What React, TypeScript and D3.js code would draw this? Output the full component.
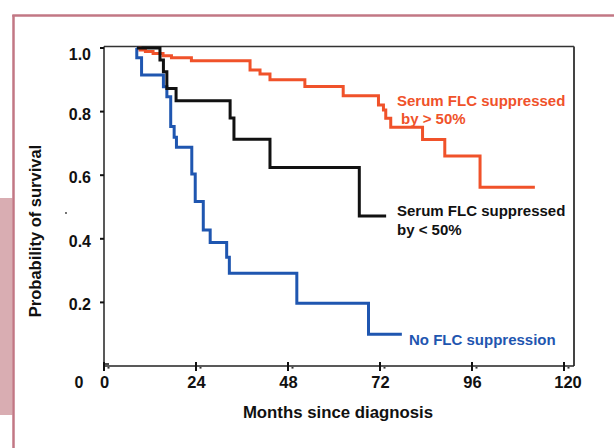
import React from "react";
import * as d3 from "d3";

// ---- Data (Kaplan–Meier step points: [month, survival after event]) ----
const orangeStart = 8.9;
const orangeTimes = [9.4, 10.8, 12.8, 15.4, 17.6, 22.8, 38.1, 40.7, 43.3, 52.4, 62.4, 71.6, 72.9, 73.5, 74.8, 83.1, 88.9, 98.1];
const orangeSurv = [0.994, 0.989, 0.983, 0.976, 0.969, 0.96, 0.931, 0.918, 0.9, 0.879, 0.85, 0.821, 0.805, 0.779, 0.751, 0.712, 0.66, 0.562];
const orangeEnd = 112.4;

const blackStart = 8.6;
const blackTimes = [14.6, 15.5, 16.4, 18.8, 32.9, 33.9, 43.3, 66.6];
const blackSurv = [0.962, 0.925, 0.873, 0.834, 0.78, 0.713, 0.624, 0.472];
const blackEnd = 73.6;

const blueStart = 8.5;
const blueTimes = [8.55, 9.8, 15.5, 16.4, 17.4, 18.3, 18.9, 22.9, 23.8, 25.9, 27.7, 32.0, 32.7, 50.3, 69.0];
const blueSurv = [0.969, 0.915, 0.878, 0.847, 0.753, 0.719, 0.688, 0.604, 0.517, 0.428, 0.388, 0.342, 0.292, 0.197, 0.1];
const blueEnd = 77.7;

const xTicks = [0, 24, 48, 72, 96, 120];
const yTicks = [0.2, 0.4, 0.6, 0.8, 1.0];
const yTickLabels = ["0.2", "0.4", "0.6", "0.8", "1.0"];

const ORANGE = "#f0522a";
const BLUE = "#1f56b0";
const BLACK = "#111111";
const FONT = "'Liberation Sans', Arial, Helvetica, sans-serif";

function buildSeries(start: number, times: number[], surv: number[], end: number): [number, number][] {
  const pts: [number, number][] = [[start, 1]];
  times.forEach((t, i) => pts.push([t, surv[i]]));
  pts.push([end, surv[surv.length - 1]]);
  return pts;
}

export default function App() {
  const W = 614;
  const H = 448;
  const x = d3.scaleLinear().domain([0, 120]).range([104, 564]);
  const y = d3.scaleLinear().domain([0, 1]).range([366, 48]);
  const line = d3
    .line<[number, number]>()
    .x((d) => x(d[0]))
    .y((d) => y(d[1]))
    .curve(d3.curveStepAfter);

  const orange = buildSeries(orangeStart, orangeTimes, orangeSurv, orangeEnd);
  const black = buildSeries(blackStart, blackTimes, blackSurv, blackEnd);
  const blue = buildSeries(blueStart, blueTimes, blueSurv, blueEnd);

  const x0 = x(0);
  const y0 = y(0);
  const top = y(1) - 1.5;
  const right = 574;

  return (
    <svg
      width={W}
      height={H}
      viewBox={`0 0 ${W} ${H}`}
      style={{ position: "absolute", left: 0, top: 0, background: "#fff" }}
      fontFamily={FONT}
    >
      {/* page frame */}
      <rect x={0} y={198} width={12.5} height={217} fill="#d9adb2" />
      <line x1={13.5} y1={15} x2={13.5} y2={448} stroke="#c27784" strokeWidth={2.5} />
      <line x1={12.3} y1={15.5} x2={614} y2={15.5} stroke="#c27784" strokeWidth={2.5} />

      {/* plot box */}
      <line x1={x0} y1={top} x2={right} y2={top} stroke="#333" strokeWidth={1.3} />
      <line x1={right} y1={top} x2={right} y2={y0} stroke="#444" strokeWidth={2} />
      <line x1={x0} y1={y0} x2={right} y2={y0} stroke="#222" strokeWidth={1.5} />
      <line x1={x0} y1={top} x2={x0} y2={y0} stroke="#222" strokeWidth={1.5} />

      {/* y ticks */}
      {yTicks.map((t) => (
        <line key={"yt" + t} x1={x0 - 4} y1={y(t)} x2={x0} y2={y(t)} stroke="#111" strokeWidth={2} />
      ))}
      <line x1={x0} y1={y0 - 2} x2={x0 + 5} y2={y0 - 2} stroke="#111" strokeWidth={1.5} />
      {yTicks.map((t, i) => (
        <text
          key={"yl" + t}
          x={91}
          y={y(t) + (t === 1 ? 12 : 8)}
          textAnchor="end"
          fontSize={16}
          fontWeight="bold"
          fill="#111"
        >
          {yTickLabels[i]}
        </text>
      ))}
      <text x={79} y={388} textAnchor="middle" fontSize={16} fontWeight="bold" fill="#111">
        0
      </text>

      {/* x ticks */}
      {xTicks.map((t) => (
        <g key={"xt" + t}>
          <line x1={x(t)} y1={y0 - 4} x2={x(t)} y2={y0 + 5} stroke="#111" strokeWidth={2} />
          <rect x={x(t) + 3.5} y={y0 + 1} width={2} height={1.6} fill="#333" />
          <text x={x(t) + (t === 120 ? 4 : 0.5)} y={388} textAnchor="middle" fontSize={16.5} fontWeight="bold" fill="#111">
            {t}
          </text>
        </g>
      ))}

      {/* stray dot */}
      <circle cx={66} cy={213} r={0.9} fill="#333" />

      {/* curves */}
      <path d={line(orange) || ""} fill="none" stroke={ORANGE} strokeWidth={3} />
      <path d={line(blue) || ""} fill="none" stroke={BLUE} strokeWidth={3} />
      <path d={line(black) || ""} fill="none" stroke={BLACK} strokeWidth={3} />

      {/* curve labels */}
      <g fontSize={15} fontWeight="bold">
        <text x={397} y={106} fill={ORANGE}>Serum FLC suppressed</text>
        <text x={401} y={124} fill={ORANGE}>by &gt; 50%</text>
        <text x={397} y={216} fill={BLACK}>Serum FLC suppressed</text>
        <text x={397} y={235} fill={BLACK}>by &lt; 50%</text>
        <text x={409} y={345} fill={BLUE}>No FLC suppression</text>
      </g>

      {/* axis titles */}
      <text x={338} y={418} textAnchor="middle" fontSize={16.8} fontWeight="bold" fill="#111">
        Months since diagnosis
      </text>
      <text
        transform="translate(41,231) rotate(-90)"
        textAnchor="middle"
        fontSize={16.5}
        fontWeight="bold"
        fill="#111"
      >
        Probability of survival
      </text>
    </svg>
  );
}
